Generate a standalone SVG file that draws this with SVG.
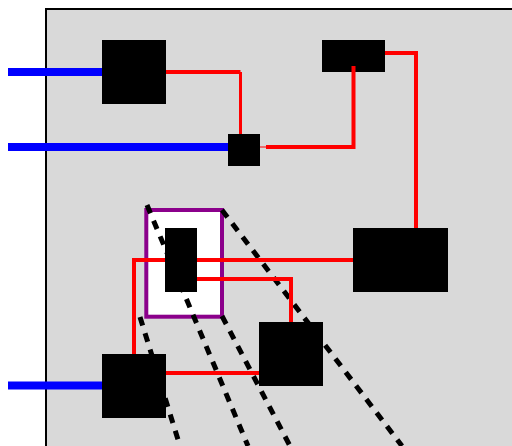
<svg xmlns="http://www.w3.org/2000/svg" width="512" height="446" viewBox="0 0 512 446">
<style>
.n{fill:#000}
.r{fill:none;stroke:#f00;stroke-width:4}
.b{fill:none;stroke:#00f;stroke-width:8}
.d{fill:none;stroke:#000;stroke-width:5;stroke-dasharray:9 8}
</style>
<rect id="panel" x="46" y="9" width="480" height="450" fill="#d9d9d9" stroke="#000" stroke-width="2"/>
<rect id="focus" x="146.300" y="210" width="75.700" height="106.700" fill="#fff" stroke="#8b008b" stroke-width="4"/>
<g id="connectors">
<path class="d" d="M147 205L248 446"/>
<path class="d" d="M222 210L402 446"/>
<path class="d" d="M222 316L290 446"/>
<path class="d" d="M140 317L180 446"/>
<path class="b" d="M8 72H102"/>
<path class="b" d="M8 147H228"/>
<path class="b" d="M8 385.500H102"/>
<path class="r" d="M166 72H240.500"/>
<path class="r" d="M240.500 72V134" style="stroke-width:3"/>
<path class="r" d="M260 147H266" style="stroke-width:1"/>
<path class="r" d="M266 147H353.500V66"/>
<path class="r" d="M385 53H416V228"/>
<path class="r" d="M353 260H134V354"/>
<path class="r" d="M197 279H291V322"/>
<path class="r" d="M166 373H259"/>
</g>
<g id="node-a"><rect class="n" x="102" y="40" width="64" height="64"/></g>
<g id="node-b"><rect class="n" x="228" y="134" width="32" height="32"/></g>
<g id="node-c"><rect class="n" x="322" y="40" width="63" height="32"/></g>
<g id="node-d"><rect class="n" x="353" y="228" width="95" height="64"/></g>
<g id="node-e"><rect class="n" x="165" y="228" width="32" height="64"/></g>
<g id="node-f"><rect class="n" x="259" y="322" width="64" height="64"/></g>
<g id="node-g"><rect class="n" x="102" y="354" width="64" height="64"/></g>
<path class="r" d="M353.500 72V66"/>
</svg>
